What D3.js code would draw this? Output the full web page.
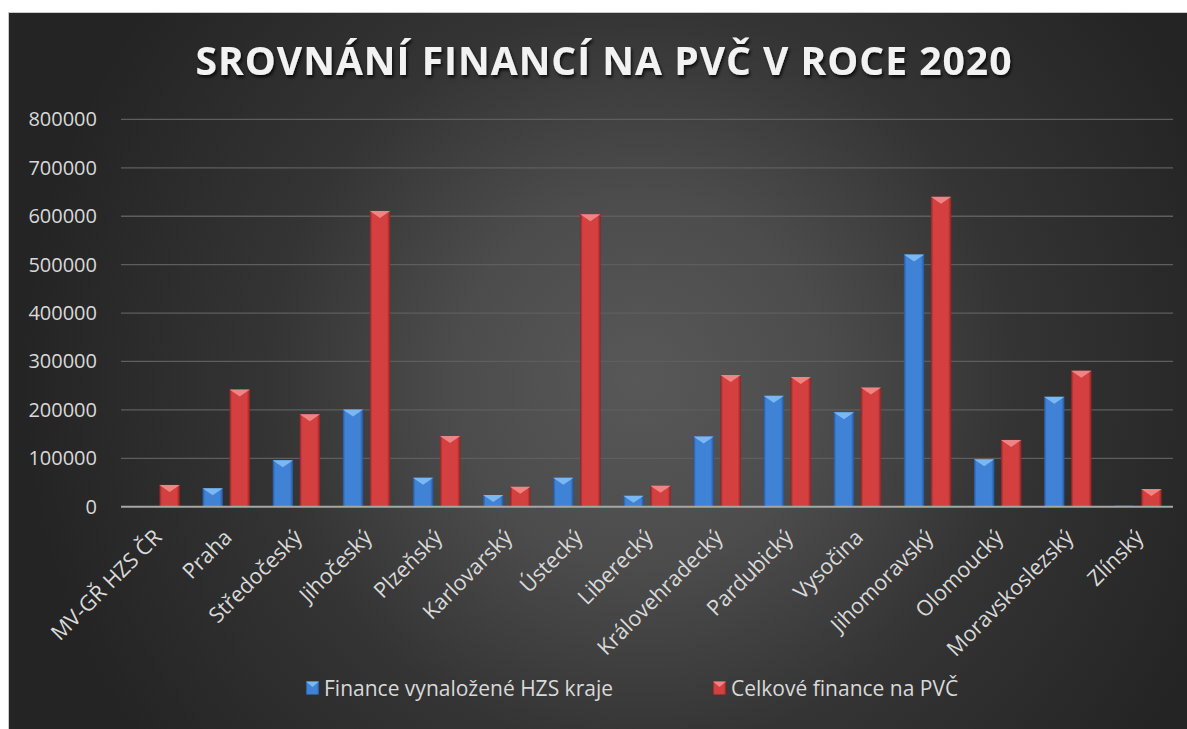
<!DOCTYPE html>
<html>
<head>
<meta charset="utf-8">
<script src="https://cdn.jsdelivr.net/npm/d3@7"></script>
<style>
  body { margin: 0; background: #fff; }
  svg { display: block; font-family: "Open Sans", sans-serif; }
</style>
</head>
<body>
<div id="chart"></div>
<script>
let width = 1187;
let height = 729;

// data
const categories = ["MV-GŘ HZS ČR", "Praha", "Středočeský", "Jihočeský", "Plzeňský", "Karlovarský",
    "Ústecký", "Liberecký", "Královehradecký", "Pardubický", "Vysočina", "Jihomoravský",
    "Olomoucký", "Moravskoslezský", "Zlínský"];
const seriesNames = ["Finance vynaložené HZS kraje", "Celkové finance na PVČ"];
const hzsValues = [0, 38000, 96000, 201000, 60000, 24000, 60000, 22500, 145000, 229000, 195000, 521000, 98000, 227000, 2000];
const totalValues = [45000, 242000, 191000, 611000, 146000, 41000, 604000, 43500, 272000, 268000, 246000, 640000, 138000, 281000, 36500];
const yTicks = [0, 100000, 200000, 300000, 400000, 500000, 600000, 700000, 800000];

const plot = { left: 121, right: 1173, top: 119.4, bottom: 506.7 };

const rows = categories.map((c, i) => ({ cat: c, values: [hzsValues[i], totalValues[i]] }));

const svg = d3.select("#chart").append("svg")
    .attr("width", width)
    .attr("height", height);

const defs = svg.append("defs");

const bg = defs.append("radialGradient")
    .attr("id", "bg")
    .attr("gradientUnits", "userSpaceOnUse")
    .attr("cx", 640).attr("cy", 380).attr("r", 620);
bg.append("stop").attr("offset", 0).attr("stop-color", "#585858");
bg.append("stop").attr("offset", 0.3).attr("stop-color", "#4c4c4c");
bg.append("stop").attr("offset", 0.6).attr("stop-color", "#343434");
bg.append("stop").attr("offset", 1).attr("stop-color", "#242424");

// bevelled bar fills
const barColors = [
    { id: "blue", edge: "#24559a", mid: "#3f82d6", tip: "#86c2f7" },
    { id: "red", edge: "#8e2222", mid: "#d43f3f", tip: "#f29090" }
];
barColors.forEach(c => {
    const g = defs.append("linearGradient").attr("id", "g-" + c.id)
        .attr("x1", 0).attr("x2", 1).attr("y1", 0).attr("y2", 0);
    g.append("stop").attr("offset", 0).attr("stop-color", c.edge);
    g.append("stop").attr("offset", 0.12).attr("stop-color", c.mid);
    g.append("stop").attr("offset", 0.85).attr("stop-color", c.mid);
    g.append("stop").attr("offset", 1).attr("stop-color", c.edge);
});

const shadow = defs.append("filter").attr("id", "shadow")
    .attr("x", "-5%").attr("y", "-20%").attr("width", "110%").attr("height", "150%");
shadow.append("feDropShadow")
    .attr("dx", 1.5).attr("dy", 2.5).attr("stdDeviation", 1.8)
    .attr("flood-color", "#000").attr("flood-opacity", 0.75);

// background panel
svg.append("rect")
    .attr("x", 8.5).attr("y", 12.5)
    .attr("width", width)
    .attr("height", height)
    .attr("fill", "url(#bg)")
    .attr("stroke", "#c8c8c8");

// title
svg.append("text")
    .attr("x", 603.5)
    .attr("y", 75)
    .attr("text-anchor", "middle")
    .attr("textLength", 816)
    .attr("lengthAdjust", "spacing")
    .style("font-size", "39px")
    .style("font-weight", "bold")
    .attr("fill", "#f2f2f2")
    .attr("filter", "url(#shadow)")
    .text("SROVNÁNÍ FINANCÍ NA PVČ V ROCE 2020");

const x = d3.scaleBand()
    .domain(categories)
    .range([plot.left, plot.right]);

const xs = d3.scaleBand()
    .domain([0, 1])
    .range([0, x.bandwidth()])
    .paddingInner(0.245)
    .paddingOuter(0.42);

const y = d3.scaleLinear()
    .domain([0, 800000])
    .range([plot.bottom, plot.top]);

// gridlines
svg.append("g")
    .selectAll("line")
    .data(yTicks.filter(d => d > 0))
    .join("line")
    .attr("x1", plot.left).attr("x2", plot.right)
    .attr("y1", d => y(d)).attr("y2", d => y(d))
    .attr("stroke", "#5e5e5e")
    .attr("stroke-width", 1.3);

// y axis labels
const yAxis = svg.append("g")
    .attr("transform", `translate(${plot.left},0)`)
    .call(d3.axisLeft(y).tickValues(yTicks).tickFormat(d3.format("d")).tickSize(0).tickPadding(24));
yAxis.select(".domain").remove();
yAxis.selectAll("text")
    .attr("fill", "#d9d9d9")
    .style("font-size", "20px")
    .style("font-family", "Open Sans, sans-serif");

// bars
const groups = svg.append("g")
    .selectAll("g")
    .data(rows)
    .join("g")
    .attr("transform", d => `translate(${x(d.cat)},0)`);

groups.selectAll("rect")
    .data(d => d.values.map((v, i) => ({ i, v })))
    .join("rect")
    .attr("x", d => xs(d.i))
    .attr("y", d => y(d.v))
    .attr("width", xs.bandwidth())
    .attr("height", d => y(0) - y(d.v))
    .attr("fill", d => `url(#g-${barColors[d.i].id})`);

groups.selectAll("path")
    .data(d => d.values.map((v, i) => ({ i, v })).filter(d => y(0) - y(d.v) > 8))
    .join("path")
    .attr("d", d => {
        const x0 = xs(d.i), w = xs.bandwidth(), t = y(d.v);
        return `M${x0},${t}L${x0 + w},${t}L${x0 + w / 2},${t + 7}Z`;
    })
    .attr("fill", d => barColors[d.i].tip)
    .attr("opacity", 0.85);

// baseline
svg.append("line")
    .attr("x1", plot.left).attr("x2", plot.right)
    .attr("y1", y(0)).attr("y2", y(0))
    .attr("stroke", "#a6a6a6")
    .attr("stroke-width", 2);

// category labels
const xAxis = svg.append("g")
    .attr("transform", `translate(0,${y(0)})`)
    .call(d3.axisBottom(x).tickSize(0).tickPadding(0));
xAxis.select(".domain").remove();
xAxis.selectAll("text")
    .attr("fill", "#d9d9d9")
    .style("font-size", "21.5px")
    .style("font-family", "Open Sans, sans-serif")
    .attr("text-anchor", "end")
    .attr("dy", null)
    .attr("y", 0)
    .attr("transform", "translate(7,32) rotate(-45)");

// legend
const legend = svg.append("g")
    .attr("transform", "translate(0,688)");
const legendX = [306, 713];
seriesNames.forEach((name, i) => {
    legend.append("rect")
        .attr("x", legendX[i]).attr("y", -6.5)
        .attr("width", 13).attr("height", 13)
        .attr("fill", `url(#g-${barColors[i].id})`);
    legend.append("path")
        .attr("d", `M${legendX[i]},-6.5L${legendX[i] + 13},-6.5L${legendX[i] + 6.5},-1Z`)
        .attr("fill", barColors[i].tip)
        .attr("opacity", 0.85);
    legend.append("text")
        .attr("x", legendX[i] + 18)
        .attr("y", 7.5)
        .attr("fill", "#d9d9d9")
        .style("font-size", "21px")
        .text(name);
});
</script>
</body>
</html>
